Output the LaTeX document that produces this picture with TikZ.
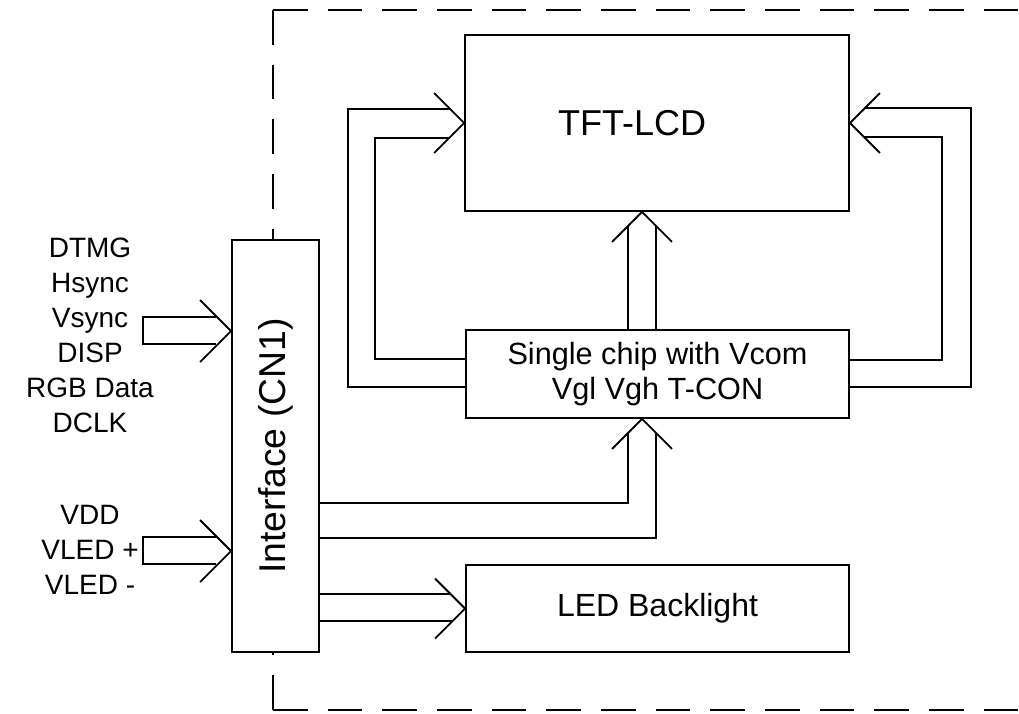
\documentclass[tikz,border=0pt]{standalone}
\usepackage{fontspec}
\setmainfont{Liberation Sans}
\usetikzlibrary{calc}
\begin{document}
\begin{tikzpicture}[x=0.75pt,y=-0.75pt,line width=1.4pt,line join=miter,
  box/.style={draw,rectangle,fill=white,inner sep=0pt},
  frame/.style={dash pattern=on 26pt off 15pt},
  lbl/.style={align=center,font=\fontsize{21}{26.25}\selectfont,inner sep=0pt}]
\useasboundingbox (0,0) rectangle (1019,713);
% dashed enclosure
\draw[frame] (273,10) -- (1019,10);
\draw[frame] (273,10) -- (273,240);
\draw[frame] (273,710) -- (1019,710);
\draw[frame] (273,710) -- (273,652);
% boxes
\node[box,minimum width=288pt,minimum height=132pt] (tft) at (657,123) {};
\node[font=\fontsize{27}{30}\selectfont] (tfttxt) at (632,123) {TFT-LCD};
\node[box,minimum width=287.25pt,minimum height=66pt,align=center,font=\fontsize{23}{26}\selectfont] (chip) at (657.5,374) {Single chip with Vcom\\Vgl Vgh T-CON};
\node[box,minimum width=287.25pt,minimum height=65.25pt,font=\fontsize{24}{24}\selectfont] (led) at (657.5,608.5) {LED Backlight};
\node[box,minimum width=65.25pt,minimum height=309pt] (iface) at (275.5,446) {};
\node[rotate=90,font=\fontsize{28}{30}\selectfont] (ifacetxt) at (iface.center) {Interface (CN1)};
% left labels
\node[lbl] (sig) at (90,335.5) {DTMG\\Hsync\\Vsync\\DISP\\RGB Data\\DCLK};
\node[lbl] (pwr) at (90,550) {VDD\\VLED +\\VLED -};
% input arrows
\coordinate (t1) at (iface.west |- 0,331);
\coordinate (t2) at (iface.west |- 0,551);
\draw ($(t1)+(-15,-14)$) -- ($(t1)+(-88,-14)$) -- ($(t1)+(-88,13)$) -- ($(t1)+(-15,13)$);
\draw ($(t1)+(-31,-31)$) -- (t1) -- ($(t1)+(-31,31)$);
\draw ($(t2)+(-15,-14)$) -- ($(t2)+(-88,-14)$) -- ($(t2)+(-88,13)$) -- ($(t2)+(-15,13)$);
\draw ($(t2)+(-31,-31)$) -- (t2) -- ($(t2)+(-31,31)$);
% chip -> TFT left side
\draw (chip.west |- 0,387) -- (348,387) -- (348,109) -- ($(tft.west)+(-14,-14)$);
\draw (chip.west |- 0,359) -- (375,359) -- (375,138) -- ($(tft.west)+(-15,15)$);
\draw ($(tft.west)+(-30,-30)$) -- (tft.west) -- ($(tft.west)+(-30,30)$);
% chip -> TFT right side
\draw (chip.east |- 0,387) -- (971,387) -- (971,108) -- ($(tft.east)+(15,-15)$);
\draw (chip.east |- 0,360) -- (942,360) -- (942,137) -- ($(tft.east)+(14,14)$);
\draw ($(tft.east)+(30,-30)$) -- (tft.east) -- ($(tft.east)+(30,30)$);
% chip -> TFT upward
\coordinate (tu) at (642,0 |- tft.south);
\draw (chip.north -| 628,0) -- ($(tu)+(-14,14)$);
\draw (chip.north -| 656,0) -- ($(tu)+(14,14)$);
\draw ($(tu)+(-30,30)$) -- (tu) -- ($(tu)+(30,30)$);
% interface -> chip
\coordinate (tc) at (642,0 |- chip.south);
\draw (iface.east |- 0,503) -- (628,503) -- ($(tc)+(-14,14)$);
\draw (iface.east |- 0,538) -- (656,538) -- ($(tc)+(14,14)$);
\draw ($(tc)+(-30,30)$) -- (tc) -- ($(tc)+(30,30)$);
% interface -> LED
\draw (iface.east |- 0,594) -- ($(led.west)+(-14,-14.5)$);
\draw (iface.east |- 0,621) -- ($(led.west)+(-13,12.5)$);
\draw ($(led.west)+(-30,-30)$) -- (led.west) -- ($(led.west)+(-30,30)$);
\end{tikzpicture}
\end{document}
